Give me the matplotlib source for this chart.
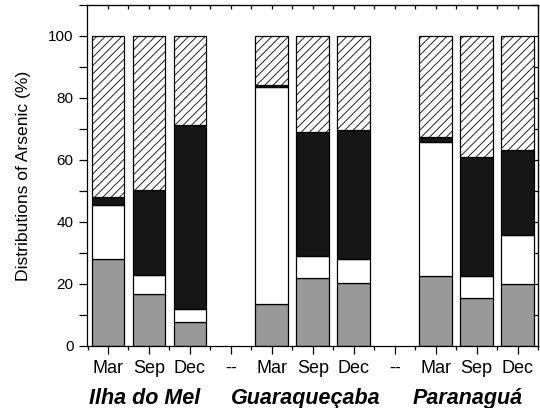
import numpy as np
import matplotlib.pyplot as plt
from matplotlib.ticker import MultipleLocator

plt.rcParams['font.family'] = ['Liberation Sans', 'DejaVu Sans']
plt.rcParams['hatch.linewidth'] = 0.6

# Categories (empty "--" slots separate the sites)
months = ['Mar', 'Sep', 'Dec', '--', 'Mar', 'Sep', 'Dec', '--', 'Mar', 'Sep', 'Dec']
sites = ['Ilha do Mel', 'Guaraqueçaba', 'Paranaguá']

# Fractions (%), one value per month slot; None for separators
grey = [27.9, 16.7, 7.5, None, 13.5, 21.8, 20.3, None, 22.5, 15.3, 20.0]
white = [17.4, 6.0, 4.5, None, 69.9, 7.2, 7.8, None, 43.4, 7.2, 15.6]
black = [2.8, 27.6, 59.2, None, 0.9, 40.1, 41.5, None, 1.6, 38.5, 27.5]
hatched = [51.9, 49.7, 28.8, None, 15.7, 30.9, 30.4, None, 32.5, 39.0, 36.9]

fig = plt.figure(figsize=(5.4, 4.08), dpi=100)
ax = fig.add_axes([0.1606, 0.1527, 0.8357, 0.835])

idx = [i for i, v in enumerate(grey) if v is not None]
x = np.array(idx, dtype=float)
g = np.array([grey[i] for i in idx])
w = np.array([white[i] for i in idx])
b = np.array([black[i] for i in idx])
h = np.array([hatched[i] for i in idx])

kw = dict(width=0.8, edgecolor='black', linewidth=0.9)
ax.bar(x, g, color='#999999', **kw)
ax.bar(x, w, bottom=g, color='white', **kw)
ax.bar(x, b, bottom=g + w, color='#161616', **kw)
ax.bar(x, h, bottom=g + w + b, color='white', hatch='////', **kw)

ax.set_xlim(-0.52, 10.5)
ax.set_ylim(0, 110)
ax.set_xticks(range(len(months)))
ax.set_xticklabels(months, fontsize=13)
ax.xaxis.set_minor_locator(MultipleLocator(0.5))
ax.set_yticks([0, 20, 40, 60, 80, 100])
ax.yaxis.set_minor_locator(MultipleLocator(10))
ax.tick_params(axis='y', which='major', labelsize=11, length=6, width=0.9, direction='out')
ax.tick_params(axis='x', which='major', length=6, width=0.9, direction='out', pad=4)
ax.tick_params(axis='x', which='minor', length=3, width=0.9, direction='out')
ax.tick_params(axis='y', which='minor', length=6, width=0.9, direction='out')
ax.set_ylabel('Distributions of Arsenic (%)', fontsize=12.6)
ax.yaxis.set_label_coords(-0.124, 0.5)

# inward ticks on top and right spines
top = ax.secondary_xaxis('top')
top.set_xticks(np.arange(0, 11, 0.5))
top.tick_params(direction='in', length=3, width=0.9, labeltop=False)
right = ax.secondary_yaxis('right')
right.set_yticks(np.arange(0, 111, 10))
right.tick_params(direction='in', length=4, width=0.9, labelright=False)

for sp in ax.spines.values():
    sp.set_linewidth(0.9)

for xpos, name in zip([0.9, 4.84, 8.78], sites):
    ax.text(xpos, -0.125, name, transform=ax.get_xaxis_transform(),
            ha='center', va='top', fontsize=15.5, fontweight='bold', style='italic')

fig.savefig('out.png', dpi=100)
